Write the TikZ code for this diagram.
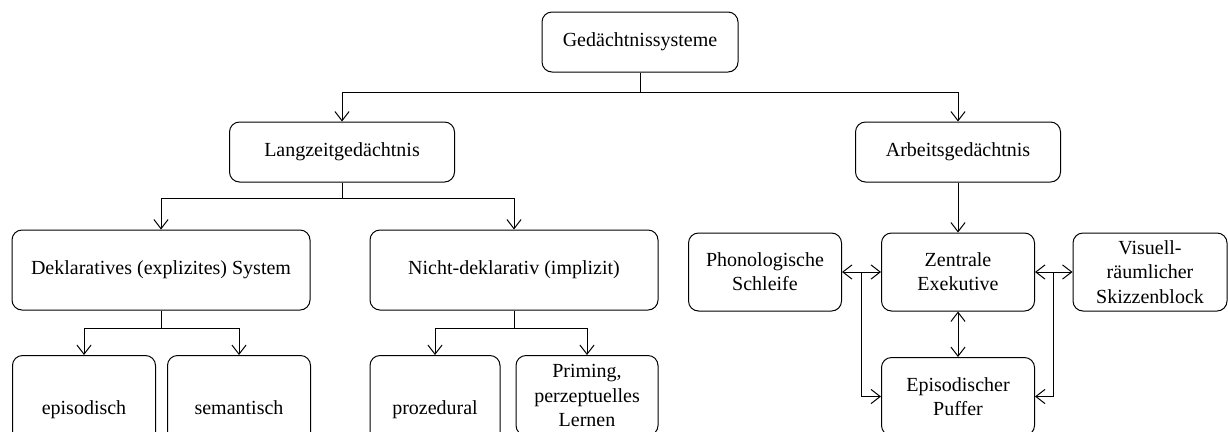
\documentclass[tikz,border=0pt]{standalone}
\usepackage{fontspec}
\setmainfont{Liberation Serif}
\usepackage{tikz}
\usetikzlibrary{arrows.meta,positioning,calc}
\tikzstyle{box}=[draw,rounded corners=6pt,align=center,inner sep=3pt,font=\fontsize{12}{14.5}\selectfont]
\tikzstyle{leaf}=[box,anchor=north,minimum height=63.6pt,text height=2ex,text depth=0.5ex]
\tikzstyle{link}=[-{Straight Barb[length=5.5pt,width=8.5pt]}]
\tikzstyle{both}=[{Straight Barb[length=5.5pt,width=8.5pt]}-{Straight Barb[length=5.5pt,width=8.5pt]}]

\begin{document}
\begin{tikzpicture}[x=0.6pt,y=-0.6pt,line width=0.6pt]
\useasboundingbox (0,0) rectangle (1228,431);
% top levels
\node [box, minimum width=117.6pt, minimum height=36pt] (ged) at (640,42) {Gedächtnissysteme};
\node [box, minimum width=135pt, minimum height=36pt] (lzg) at (342,152) {Langzeitgedächtnis};
\node [box, minimum width=123pt, minimum height=36pt] (arb) at (958,152) {Arbeitsgedächtnis};
\node [box, minimum width=178.8pt, minimum height=48pt] (dekl) at (161,270) {Deklaratives (explizites) System};
\node [box, minimum width=172.8pt, minimum height=48pt] (nicht) at (514,270) {Nicht-deklarativ (implizit)};
% leaves
\node [leaf, minimum width=85.8pt] (epi) at (84,355) {episodisch};
\node [leaf, minimum width=85.8pt] (sem) at (239,355) {semantisch};
\node [leaf, minimum width=78pt] (proz) at (435,355) {prozedural};
\node [box, anchor=north, minimum width=85.2pt, minimum height=48pt] (prim) at (587,355) {Priming,\\perzeptuelles\\Lernen};
% working memory
\node [box, minimum width=91.8pt, minimum height=46.8pt] (zen) at (958,272) {Zentrale\\Exekutive};
\node [box, minimum width=91.8pt, minimum height=46.8pt] (phon) at (765,272) {Phonologische\\Schleife};
\node [box, minimum width=92.4pt, minimum height=46.8pt] (vis) at (1150,272) {Visuell-\\räumlicher\\Skizzenblock};
\node [box, anchor=north, minimum width=91.8pt, minimum height=46.8pt] (puf) at (958,357) {Episodischer\\Puffer};
\coordinate (jl) at ($(phon.east)!0.5!(zen.west)$);
\coordinate (jr) at ($(zen.east)!0.5!(vis.west)$);

\draw [link] (ged.south) -- ++(0,20) -| (lzg);
\draw [link] (ged.south) -- ++(0,20) -| (arb);
\draw [link] (lzg.south) -- ++(0,16) -| (dekl);
\draw [link] (lzg.south) -- ++(0,16) -| (nicht);
\draw [link] (dekl.south) -- ++(0,18) -| (epi);
\draw [link] (dekl.south) -- ++(0,18) -| (sem);
\draw [link] (nicht.south) -- ++(0,18) -| (proz);
\draw [link] (nicht.south) -- ++(0,18) -| (prim);
\draw [link] (arb) -- (zen);
\draw [both] (phon) -- (zen);
\draw [both] (zen) -- (vis);
\draw [both] (zen) -- (puf);
\draw [link] (jl) |- (puf.west);
\draw [link] (jr) |- (puf.east);
\end{tikzpicture}
\end{document}
